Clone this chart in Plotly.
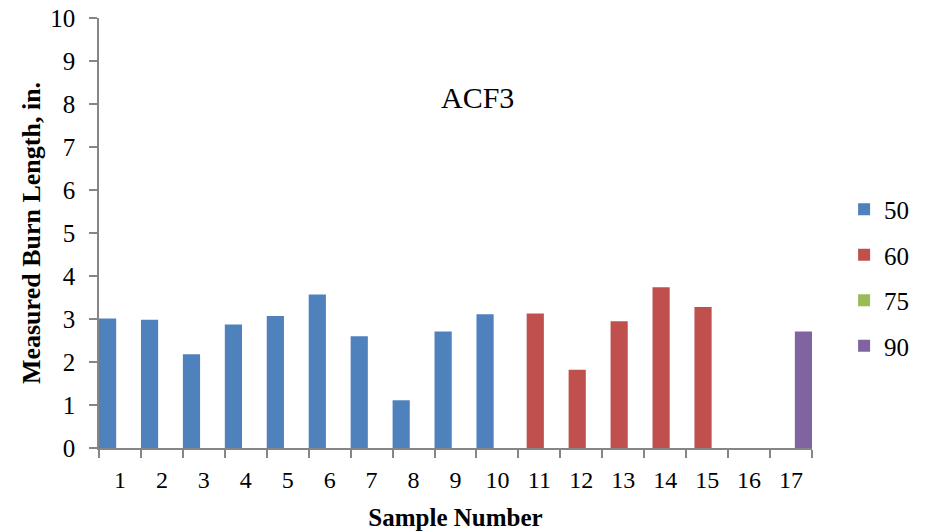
import plotly.graph_objects as go

# Sample numbers and measured burn lengths (in.) grouped by test condition
samples = [str(i) for i in range(1, 18)]
series_names = ["50", "60", "75", "90"]
len_50 = [3.01, 2.98, 2.18, 2.87, 3.07, 3.57, 2.60, 1.11, 2.71, 3.11,
          None, None, None, None, None, None, None]
len_60 = [None, None, None, None, None, None, None, None, None, None,
          3.13, 1.82, 2.95, 3.74, 3.28, None, None]
len_75 = [None] * 17
len_90 = [None] * 16 + [2.71]
series_values = [len_50, len_60, len_75, len_90]
colors = ["#4F81BD", "#C0504D", "#9BBB59", "#8064A2"]

FONT = "Liberation Serif, Times New Roman, serif"
bar_w = 0.41
step = 0.197

fig = go.Figure()
for k, (name, vals, col) in enumerate(zip(series_names, series_values, colors)):
    fig.add_trace(go.Bar(
        x=samples, y=vals, name=name,
        marker=dict(color=col, line=dict(width=0)),
        width=bar_w, offset=-0.5 + k * step,
        legendgroup=name,
    ))

axis_col = "#868686"
fig.update_layout(
    width=926, height=532,
    margin=dict(l=99, r=103, t=18, b=84),
    paper_bgcolor="white", plot_bgcolor="white",
    barmode="overlay",
    font=dict(family=FONT, size=24, color="black"),
    showlegend=True,
    legend=dict(x=1.045, xanchor="left", y=0.608, yanchor="top",
                font=dict(family=FONT, size=25), tracegroupgap=10,
                bgcolor="rgba(0,0,0,0)"),
    xaxis=dict(
        type="category", range=[-0.5, 16.5],
        showline=True, linecolor=axis_col, linewidth=1.5,
        ticks="outside", tickson="boundaries", ticklen=8, tickcolor=axis_col,
        tickwidth=1.5, ticklabelstandoff=9,
        tickfont=dict(family=FONT, size=24),
        title=dict(text="<b>Sample Number</b>", font=dict(family=FONT, size=25),
                   standoff=17),
        showgrid=False, zeroline=False, automargin=False,
    ),
    yaxis=dict(
        range=[0, 10], dtick=1,
        showline=True, linecolor=axis_col, linewidth=1.5,
        ticks="outside", ticklen=8, tickcolor=axis_col, tickwidth=1.5,
        ticklabelstandoff=9,
        tickfont=dict(family=FONT, size=25),
        title=dict(text="<b>Measured Burn Length, in.</b>",
                   font=dict(family=FONT, size=26), standoff=2),
        showgrid=False, zeroline=False, automargin=False,
    ),
    annotations=[dict(text="ACF3", x=0.531, y=0.857, xref="paper", yref="paper",
                      showarrow=False, font=dict(family=FONT, size=30))],
)

fig.write_html("out.html")
